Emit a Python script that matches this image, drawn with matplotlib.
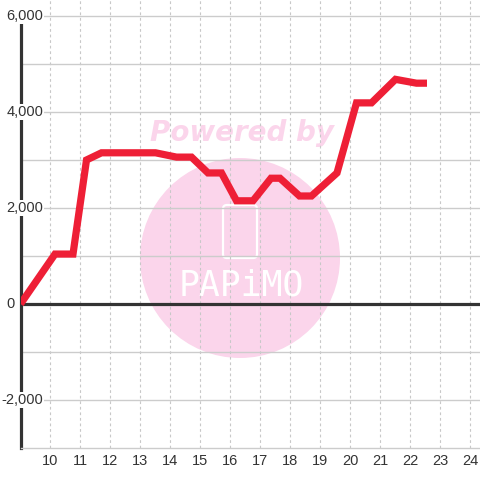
import matplotlib
matplotlib.use('Agg')
import matplotlib.pyplot as plt
from matplotlib.patches import Circle, FancyBboxPatch

# hours of the day and the values at each vertex of the line
hours = [9.0, 10.15, 10.75, 11.2, 11.7, 13.5, 14.2, 14.7, 15.25, 15.7, 16.2,
         16.75, 17.35, 17.65, 18.3, 18.7, 19.55, 20.2, 20.7, 21.5, 22.2, 22.55]
values = [0, 1040, 1040, 3000, 3150, 3150, 3060, 3060, 2730, 2730, 2150,
          2150, 2620, 2620, 2250, 2250, 2730, 4190, 4190, 4680, 4600, 4600]

x_ticks = list(range(10, 25))
y_ticks = [-2000, 0, 2000, 4000, 6000]
y_labels = ['-2,000', '0', '2,000', '4,000', '6,000']
y_minor = [-1000, 1000, 3000, 5000]

plt.rcParams['font.family'] = ['Liberation Sans', 'DejaVu Sans']

fig = plt.figure(figsize=(4.8, 4.8), dpi=100)
ax = fig.add_axes([20.5 / 480, 32 / 480, 459.5 / 480, 448 / 480])
ax.set_xlim(9.0, 24.317)
ax.set_ylim(-3000, 6333)

# grid
ax.set_xticks(x_ticks)
ax.set_yticks(y_ticks)
ax.set_yticks(y_minor, minor=True)
ax.grid(axis='y', which='both', color='#cccccc', lw=1.0)
ax.grid(axis='x', color='#c8c8c8', lw=0.8, linestyle=(0, (2.5, 2.5)))
ax.tick_params(axis='both', which='both', length=0)
ax.tick_params(axis='x', labelsize=10.5, labelcolor='#333333', pad=4.5)
ax.tick_params(axis='y', labelleft=False)

# y labels sit inside the plot, on white boxes over the axis line
for v, lab in zip(y_ticks, y_labels):
    xpos = 0.049 if v != 0 else -0.012
    ax.text(xpos, v, lab, transform=ax.get_yaxis_transform(), ha='right',
            va='center', fontsize=10.5, color='#333333', zorder=3,
            clip_on=False,
            bbox=dict(facecolor='white', edgecolor='none', pad=0.5))

for s in ['top', 'right']:
    ax.spines[s].set_visible(False)
ax.spines['bottom'].set_color('#cccccc')
ax.spines['bottom'].set_linewidth(1.0)
ax.spines['left'].set_color('#333333')
ax.spines['left'].set_linewidth(2.3)
ax.spines['left'].set_bounds(-3000, 5833)
ax.axhline(0, color='#333333', lw=2.3, zorder=2.6)

# watermark
ax.add_patch(Circle((240 / 480, 1 - 258 / 480), 100 / 480, transform=fig.transFigure,
                    facecolor='#fbd5eb', edgecolor='none', zorder=0.8))
ax.add_patch(FancyBboxPatch((223 / 480, 1 - 258 / 480), 34 / 480, 53 / 480,
                            boxstyle='round,pad=0,rounding_size=0.008',
                            transform=fig.transFigure, fill=False,
                            edgecolor='white', lw=1.6, zorder=0.9))
ax.text(242 / 480, 1 - 133 / 480, 'Powered by', transform=fig.transFigure,
        fontsize=20, fontweight='bold', style='italic', color='#fbd5eb',
        family='DejaVu Sans', ha='center', va='center', zorder=0.8)
ax.text(241 / 480, 1 - 286 / 480, 'PAPiMO', transform=fig.transFigure,
        fontsize=25, color='white', family='DejaVu Sans Mono',
        ha='center', va='center', zorder=0.9)

ax.plot(hours, values, color='#ee1f36', lw=5.2, solid_joinstyle='miter',
        solid_capstyle='butt', zorder=5)

fig.savefig('out.png', dpi=100)
